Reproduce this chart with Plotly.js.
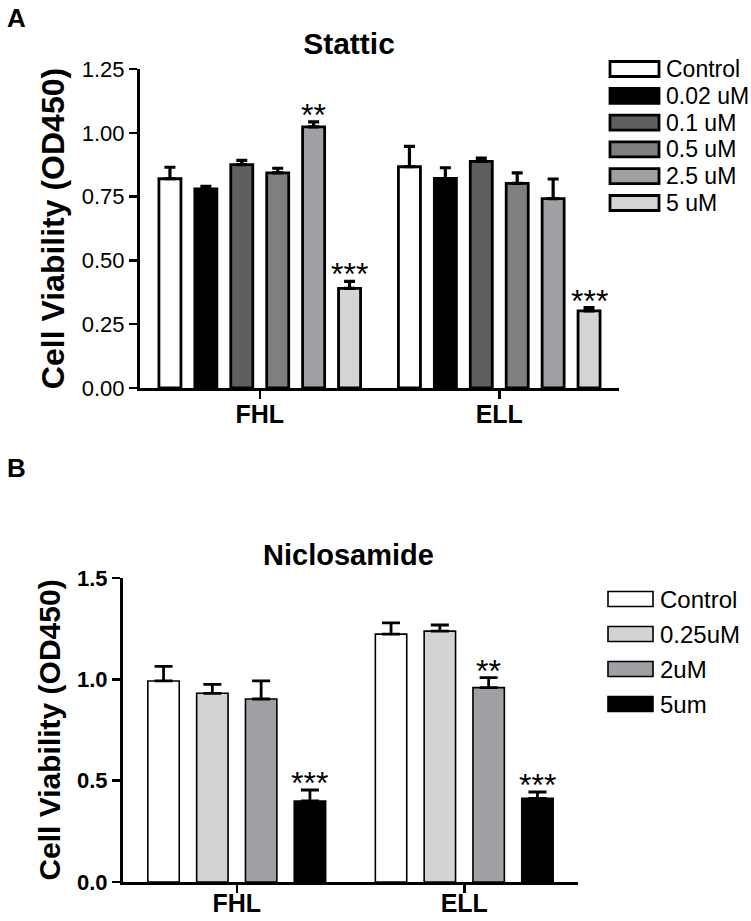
<!DOCTYPE html>
<html>
<head>
<meta charset="utf-8">
<script src="https://cdn.plot.ly/plotly-3.0.1.min.js"></script>
<style>html,body{margin:0;padding:0;background:#fff;}#chart{width:751px;height:921px;}</style>
</head>
<body>
<div id="chart"></div>
<script>
// ---------- DATA ----------
const categories = ['FHL', 'ELL'];

// Panel A: Stattic
const statticNames = ['Control', '0.02 uM', '0.1 uM', '0.5 uM', '2.5 uM', '5 uM'];
const statticFHL = [0.820, 0.780, 0.875, 0.843, 1.023, 0.390];
const statticELL = [0.867, 0.821, 0.888, 0.802, 0.742, 0.302];
const statticErrFHL = [0.045, 0.010, 0.017, 0.018, 0.020, 0.028];
const statticErrELL = [0.080, 0.042, 0.013, 0.041, 0.077, 0.013];
const statticSigFHL = ['', '', '', '', '**', '***'];
const statticSigELL = ['', '', '', '', '', '***'];

// Panel B: Niclosamide
const niclosNames = ['Control', '0.25uM', '2uM', '5um'];
const niclosFHL = [0.992, 0.931, 0.903, 0.400];
const niclosELL = [1.223, 1.238, 0.959, 0.413];
const niclosErrFHL = [0.072, 0.044, 0.089, 0.054];
const niclosErrELL = [0.056, 0.030, 0.049, 0.031];
const niclosSigFHL = ['', '', '', '***'];
const niclosSigELL = ['', '', '**', '***'];

// ---------- STYLE ----------
const statticColors = ['#ffffff', '#000000', '#5f5f5f', '#7f7f7f', '#a0a0a4', '#d4d4d4'];
const niclosColors = ['#ffffff', '#d3d3d3', '#a0a0a4', '#000000'];
const FONT = 'Liberation Sans, Arial, Helvetica, sans-serif';
const W = 751, H = 921;
const px = x => x / W;
const py = y => 1 - y / H;

const panels = [
  {names: statticNames, colors: statticColors, vals: [statticFHL, statticELL],
   errs: [statticErrFHL, statticErrELL], sigs: [statticSigFHL, statticSigELL],
   xa: 'x', ya: 'y', slot: 0.1500, barW: 0.092, lineW: 2.8, errT: 3.2, errW: 5.5},
  {names: niclosNames, colors: niclosColors, vals: [niclosFHL, niclosELL],
   errs: [niclosErrFHL, niclosErrELL], sigs: [niclosSigFHL, niclosSigELL],
   xa: 'x2', ya: 'y2', slot: 0.2145, barW: 0.138, lineW: 1.6, errT: 2.8, errW: 9}
];

const traces = [];
const annotations = [];
panels.forEach(p => {
  const n = p.names.length;
  p.names.forEach((name, i) => {
    const center = (i - (n - 1) / 2) * p.slot;
    const y = p.vals.map(v => v[i]);
    const e = p.errs.map(v => v[i]);
    traces.push({
      type: 'bar', name: name, x: categories, y: y,
      xaxis: p.xa, yaxis: p.ya,
      offset: center - p.barW / 2, width: p.barW,
      marker: {color: p.colors[i], line: {color: '#000', width: p.lineW}},
      error_y: {type: 'data', symmetric: false, array: e, arrayminus: e.map(() => 0),
                color: '#000', thickness: p.errT, width: p.errW},
      showlegend: false, hoverinfo: 'skip'
    });
    categories.forEach((c, k) => {
      const s = p.sigs[k][i];
      if (s) {
        annotations.push({
          xref: p.xa, yref: p.ya, x: k + center, y: p.vals[k][i] + p.errs[k][i],
          text: s, showarrow: false, xanchor: 'center', yanchor: 'bottom', yshift: -13,
          font: {family: FONT, size: 32, color: '#000'}
        });
      }
    });
  });
});

// Legends drawn as boxes + text
const shapes = [];
const legends = [
  {names: statticNames, colors: statticColors, x0: 610, x1: 659, tx: 664, y0: 69, dy: 26.8, h: 15, lw: 2.8, fs: 23},
  {names: niclosNames, colors: niclosColors, x0: 608, x1: 653, tx: 658, y0: 599, dy: 35, h: 15, lw: 1.6, fs: 24}
];
legends.forEach(L => {
  L.names.forEach((name, i) => {
    const yc = L.y0 + i * L.dy;
    shapes.push({type: 'rect', xref: 'paper', yref: 'paper',
      x0: px(L.x0), x1: px(L.x1), y0: py(yc + L.h / 2), y1: py(yc - L.h / 2),
      fillcolor: L.colors[i], line: {color: '#000', width: L.lw}});
    annotations.push({xref: 'paper', yref: 'paper', x: px(L.tx), y: py(yc),
      xanchor: 'left', yanchor: 'middle', showarrow: false, text: name,
      font: {family: FONT, size: L.fs, color: '#000'}});
  });
});

// Panel labels and second title
annotations.push({xref: 'paper', yref: 'paper', x: px(5), y: py(18), xanchor: 'left', yanchor: 'middle',
  showarrow: false, text: 'A', font: {family: FONT, size: 26, weight: 'bold', color: '#000'}});
annotations.push({xref: 'paper', yref: 'paper', x: px(5), y: py(468), xanchor: 'left', yanchor: 'middle',
  showarrow: false, text: 'B', font: {family: FONT, size: 26, weight: 'bold', color: '#000'}});
annotations.push({xref: 'paper', yref: 'paper', x: px(348), y: py(555), xanchor: 'center', yanchor: 'middle',
  showarrow: false, text: 'Niclosamide', font: {family: FONT, size: 29, weight: 'bold', color: '#000'}});

const axisCommon = {
  showline: true, linecolor: '#000', linewidth: 3, ticks: 'outside', tickcolor: '#000',
  tickwidth: 2.5, ticklen: 8, showgrid: false, zeroline: false, fixedrange: true
};

const layout = {
  width: W, height: H, margin: {l: 0, r: 0, t: 0, b: 0},
  paper_bgcolor: '#fff', plot_bgcolor: '#fff',
  barmode: 'overlay', showlegend: false,
  font: {family: FONT, color: '#000'},
  title: {text: 'Stattic', x: px(349), xanchor: 'center', y: py(43), yanchor: 'middle',
          font: {family: FONT, size: 30, weight: 'bold', color: '#000'}},
  xaxis: Object.assign({}, axisCommon, {
    domain: [px(140), px(619)], anchor: 'y', type: 'category', range: [-0.5, 1.5],
    ticklabelstandoff: -6,
    tickfont: {family: FONT, size: 25, weight: 'bold', color: '#000'}
  }),
  yaxis: Object.assign({}, axisCommon, {
    domain: [py(388), py(69)], anchor: 'x', range: [0, 1.25], dtick: 0.25, tickformat: '.2f',
    tickfont: {family: FONT, size: 22, color: '#000'},
    title: {text: 'Cell Viability (OD450)', standoff: 8,
            font: {family: FONT, size: 32, weight: 'bold', color: '#000'}}
  }),
  xaxis2: Object.assign({}, axisCommon, {
    domain: [px(123), px(578)], anchor: 'y2', type: 'category', range: [-0.5, 1.5],
    ticklabelstandoff: -11,
    tickfont: {family: FONT, size: 25, weight: 'bold', color: '#000'}
  }),
  yaxis2: Object.assign({}, axisCommon, {
    domain: [py(882), py(578)], anchor: 'x2', range: [0, 1.5], dtick: 0.5, tickformat: '.1f',
    tickfont: {family: FONT, size: 22, weight: 'bold', color: '#000'},
    title: {text: 'Cell Viability (OD450)', standoff: 8,
            font: {family: FONT, size: 30, weight: 'bold', color: '#000'}}
  }),
  shapes: shapes,
  annotations: annotations
};

Plotly.newPlot('chart', traces, layout, {staticPlot: true, displayModeBar: false});
</script>
</body>
</html>
